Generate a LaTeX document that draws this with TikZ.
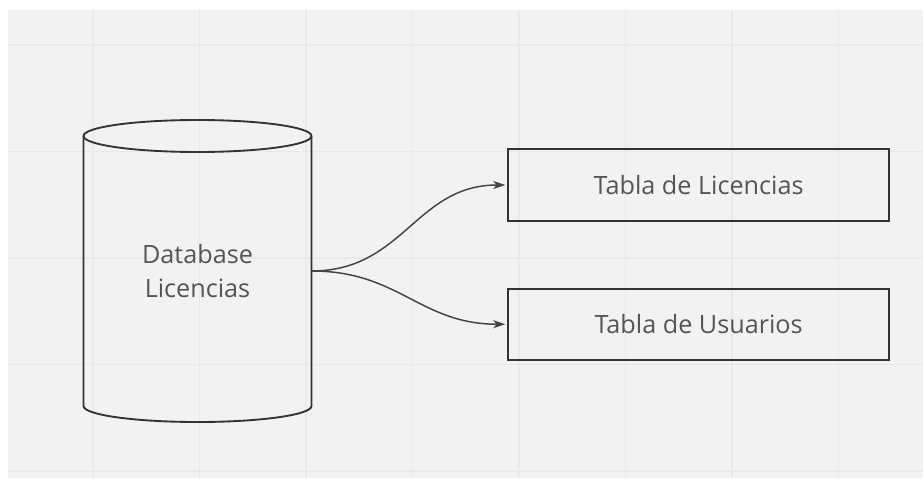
\documentclass[tikz,border=0pt]{standalone}
\usepackage{fontspec}
\setmainfont{Open Sans}
\usetikzlibrary{arrows.meta}
\definecolor{canvas}{HTML}{F2F2F2}
\definecolor{gridline}{HTML}{E9E9E9}
\definecolor{ink}{HTML}{333333}
\definecolor{wire}{HTML}{444444}
\definecolor{label}{HTML}{555555}
\begin{document}
\begin{tikzpicture}[x=0.75pt,y=-0.75pt,
  gridrule/.style={draw=gridline, line width=1.1pt},
  dbshape/.style={draw=ink, line width=1.4pt},
  tablebox/.style={draw=ink, line width=1.5pt, minimum width=285.5pt,
    minimum height=53.5pt, inner sep=0pt, text=label,
    font=\fontsize{18.9}{22}\selectfont},
  dblabel/.style={minimum width=171pt, minimum height=226.5pt, inner sep=0pt,
    align=center, text=label, font=\fontsize{18.9}{25.5}\selectfont},
  flow/.style={draw=wire, line width=1.1pt, shorten >=1.5pt,
    -{Stealth[length=9pt,width=6pt,inset=2.5pt]}}]
  % page and canvas
  \useasboundingbox (0,0) rectangle (923,478);
  \fill[white] (0,0) rectangle (923,478);
  \fill[canvas] (8,10) rectangle (923,478);
  \foreach \gx in {93,199.5,...,840}
    \draw[gridrule] (\gx,10) -- (\gx,478);
  \foreach \gy in {45,151.5,...,472}
    \draw[gridrule] (8,\gy) -- (923,\gy);

  % database cylinder
  \node[dblabel] (db) at (197.5,271) {Database\\Licencias};
  \draw[dbshape] (83.5,136) -- (83.5,406)
    arc[start angle=180, end angle=360, x radius=114, y radius=-16]
    -- (311.5,136);
  \draw[dbshape] (197.5,136) ellipse[x radius=114, y radius=16];

  % tables
  \node[tablebox] (lic) at (698.6,185) {Tabla de Licencias};
  \node[tablebox] (usr) at (698.6,324.2) {Tabla de Usuarios};

  % connectors
  \draw[flow] (db.east) to[out=0, in=180, looseness=1.1] (lic.west);
  \draw[flow] (db.east) to[out=0, in=180, looseness=1.1] (usr.west);
\end{tikzpicture}
\end{document}
